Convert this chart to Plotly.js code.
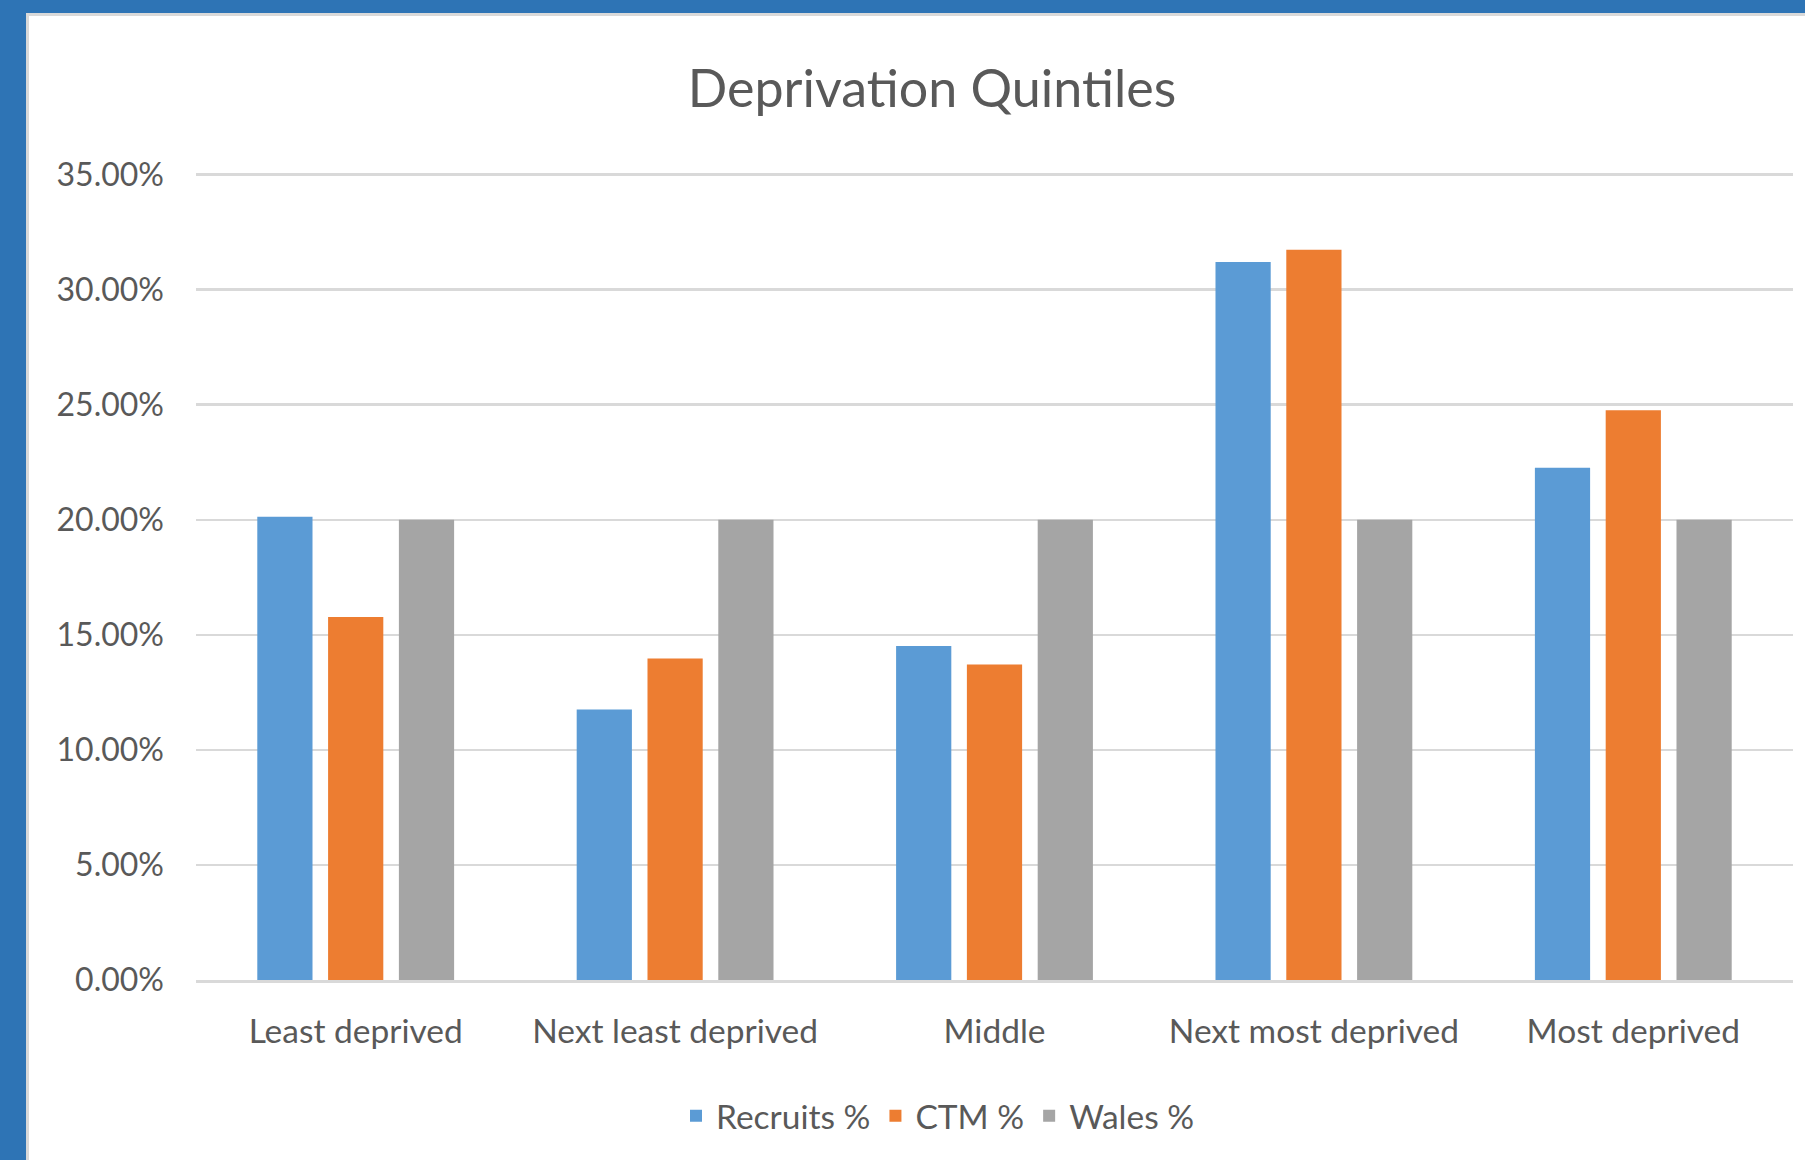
<!DOCTYPE html>
<html>
<head>
<meta charset="utf-8">
<script src="https://cdn.plot.ly/plotly-3.0.1.min.js"></script>
<style>
  html, body { margin: 0; padding: 0; background: #ffffff; }
  #frameLeft { position: absolute; left: 0; top: 0; width: 26px; height: 1160px; background: #2E74B5; }
  #frameTop { position: absolute; left: 0; top: 0; width: 1805px; height: 13px; background: #2E74B5; }
  #shadeLeft { position: absolute; left: 26px; top: 13px; width: 3px; height: 1147px; background: #d9d9d9; }
  #shadeTop { position: absolute; left: 26px; top: 13px; width: 1779px; height: 3px; background: #d9d9d9; }
  #chart { position: absolute; left: 0; top: 0; width: 1805px; height: 1160px; }
</style>
</head>
<body>
<div id="frameLeft"></div>
<div id="frameTop"></div>
<div id="shadeLeft"></div>
<div id="shadeTop"></div>
<div id="chart"></div>
<script>
const categories = ["Least deprived", "Next least deprived", "Middle", "Next most deprived", "Most deprived"];
const recruits = [0.2013, 0.1176, 0.1452, 0.3120, 0.2226];
const ctm = [0.1577, 0.1397, 0.1371, 0.3173, 0.2476];
const wales = [0.20, 0.20, 0.20, 0.20, 0.20];
const seriesNames = ["Recruits %", "CTM %", "Wales %"];
const seriesColors = ["#5B9BD5", "#ED7D31", "#A5A5A5"];
const yTickValues = [0, 0.05, 0.10, 0.15, 0.20, 0.25, 0.30, 0.35];
const fontFamily = "Lato, 'Open Sans', sans-serif";
const textColor = "#595959";

const allValues = [recruits, ctm, wales];
const traces = allValues.map((vals, i) => ({
  type: "bar",
  name: seriesNames[i],
  x: categories,
  y: vals,
  marker: { color: seriesColors[i] },
  hoverinfo: "x+y+name"
}));

const layout = {
  width: 1805,
  height: 1160,
  paper_bgcolor: "rgba(0,0,0,0)",
  plot_bgcolor: "rgba(0,0,0,0)",
  margin: { l: 196, r: 12, t: 170, b: 180, pad: 0 },
  title: {
    text: "Deprivation Quintiles",
    font: { family: fontFamily, size: 52, color: textColor },
    x: 932 / 1805, xref: "container", xanchor: "center",
    y: 1 - 89 / 1160, yref: "container", yanchor: "middle"
  },
  barmode: "group",
  bargap: 0.335,
  bargroupgap: 0.22,
  showlegend: true,
  legend: {
    orientation: "h",
    x: 938 / 1805, xref: "container", xanchor: "center",
    y: 1 - 1116 / 1160, yref: "container", yanchor: "middle",
    font: { family: fontFamily, size: 33.5, color: textColor },
    itemwidth: 30,
    tracegroupgap: 0
  },
  xaxis: {
    type: "category",
    showgrid: false,
    showline: true,
    linecolor: "#D9D9D9",
    linewidth: 2.5,
    ticks: "",
    ticklabelstandoff: 20,
    tickfont: { family: fontFamily, size: 33.5, color: textColor },
    fixedrange: true
  },
  yaxis: {
    range: [0, 0.352],
    tickmode: "array",
    tickvals: yTickValues,
    tickformat: ".2%",
    showgrid: true,
    gridcolor: "#D9D9D9",
    gridwidth: 2.5,
    zeroline: false,
    showline: false,
    ticks: "",
    ticklabelstandoff: 31,
    tickfont: { family: fontFamily, size: 32, color: textColor },
    fixedrange: true
  }
};

Plotly.newPlot("chart", traces, layout, { displayModeBar: false, staticPlot: true });
</script>
</body>
</html>
